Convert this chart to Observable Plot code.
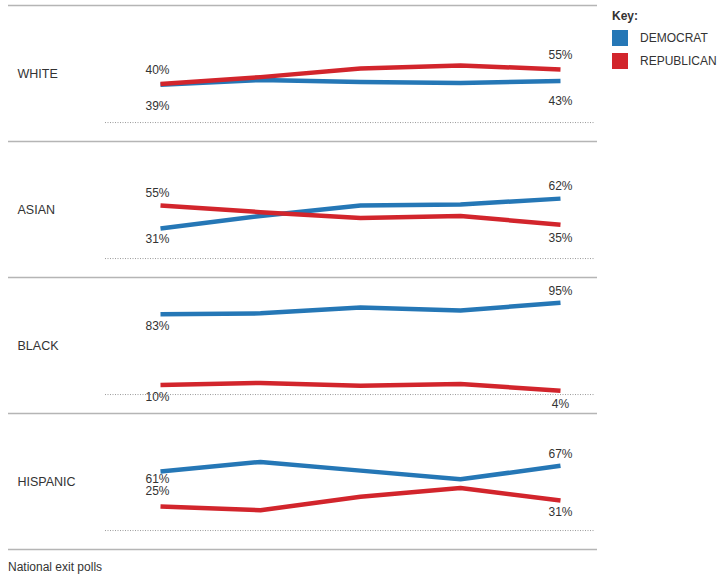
<!DOCTYPE html>
<html><head><meta charset="utf-8">
<script src="https://cdn.jsdelivr.net/npm/d3@7"></script>
<script src="https://cdn.jsdelivr.net/npm/@observablehq/plot@0.6"></script>
<style>
body{margin:0;background:#fff;font-family:"Liberation Sans",Arial,sans-serif;}
#wrap{position:relative;width:717px;height:576px;overflow:hidden;background:#fff;}
#chart{position:absolute;left:0;top:0;}
#legend{position:absolute;left:612px;top:9px;font-size:12px;color:#333;white-space:nowrap;}
#legend .key{font-weight:bold;margin-bottom:3px;}
#legend .item{display:flex;align-items:center;height:23px;}
#legend .sw{width:16px;height:16px;margin-right:12px;}
#caption{position:absolute;left:8px;top:560px;font-size:12px;color:#333;}
</style></head>
<body><div id="wrap"><div id="chart"></div>
<div id="legend"></div>
<div id="caption">National exit polls</div></div>
<script>
const races = ["WHITE", "ASIAN", "BLACK", "HISPANIC"];
const years = [1992, 1996, 2000, 2004, 2008];
const parties = ["DEMOCRAT", "REPUBLICAN"];
const whiteDem = [39, 44, 42, 41, 43];
const whiteRep = [40, 47, 56, 59, 55];
const asianDem = [31, 44, 55, 56, 62];
const asianRep = [55, 48, 42, 44, 35];
const blackDem = [83, 84, 90, 87, 95];
const blackRep = [10, 12, 9, 11, 4];
const hispDem = [61, 71, 62, 53, 67];
const hispRep = [25, 21, 35, 44, 31];

const colors = {DEMOCRAT: "#2577b6", REPUBLICAN: "#d2252c"};
// label offsets in px (first, last) — layout config
const labelDy = {
  WHITE: {DEMOCRAT: [21, 20], REPUBLICAN: [-14, -14]},
  ASIAN: {DEMOCRAT: [11, -12], REPUBLICAN: [-12, 13]},
  BLACK: {DEMOCRAT: [12, -12], REPUBLICAN: [12, 13]},
  HISPANIC: {DEMOCRAT: [8, -12], REPUBLICAN: [-15, 12]}
};

const series = {
  WHITE: {DEMOCRAT: whiteDem, REPUBLICAN: whiteRep},
  ASIAN: {DEMOCRAT: asianDem, REPUBLICAN: asianRep},
  BLACK: {DEMOCRAT: blackDem, REPUBLICAN: blackRep},
  HISPANIC: {DEMOCRAT: hispDem, REPUBLICAN: hispRep}
};
const rows = [];
for (const r of races) for (const p of parties)
  years.forEach((yr, i) => rows.push({race: r, party: p, year: yr, value: series[r][p][i], idx: i}));

const labels = rows.filter(d => d.idx === 0 || d.idx === years.length - 1)
  .map(d => ({...d, dy: labelDy[d.race][d.party][d.idx === 0 ? 0 : 1], dx: d.idx === 0 ? -3 : 0}));
const groups = d3.groups(labels, d => d.dy + "|" + d.dx);

const yDomain = [-19.6, 121.1];
const xDomain = [1985.92, 2009.48];

const marks = [
  Plot.ruleY(races, {fy: d => d, y: () => yDomain[1], stroke: "#b5b5b5", strokeWidth: 1.5}),
  Plot.ruleY(["HISPANIC"], {fy: d => d, y: () => yDomain[0], stroke: "#b5b5b5", strokeWidth: 1.5}),
  Plot.ruleY(races, {fy: d => d, y: () => 0, x1: () => 1989.8, x2: () => 2009.4, stroke: "#9a9a9a", strokeWidth: 1, strokeDasharray: "1,1.5"}),
  Plot.text(races, {fy: d => d, text: d => d, frameAnchor: "left", dx: 9, fill: "#333", fontSize: 12.5, textAnchor: "start"}),
  Plot.line(rows, {x: "year", y: "value", z: "party", fy: "race", stroke: d => colors[d.party], strokeWidth: 4.5, strokeLinejoin: "round", strokeLinecap: "butt"}),
  ...groups.map(([k, g]) => Plot.text(g, {x: "year", y: "value", fy: "race", text: d => d.value + "%", dy: g[0].dy, dx: g[0].dx, fill: "#333", fontSize: 12}))
];

const chart = Plot.plot({
  width: 717, height: 556,
  marginTop: 4, marginBottom: 6, marginLeft: 8, marginRight: 120,
  x: {domain: xDomain, axis: null},
  y: {domain: yDomain, axis: null},
  fy: {domain: races, axis: null, padding: 0},
  style: {fontFamily: '"Liberation Sans", Arial, sans-serif', background: "#fff"},
  marks
});
document.getElementById("chart").appendChild(chart);

const legend = document.getElementById("legend");
legend.innerHTML = '<div class="key">Key:</div>' + parties.map(p =>
  `<div class="item"><div class="sw" style="background:${colors[p]}"></div>${p}</div>`).join("");
</script></body></html>
